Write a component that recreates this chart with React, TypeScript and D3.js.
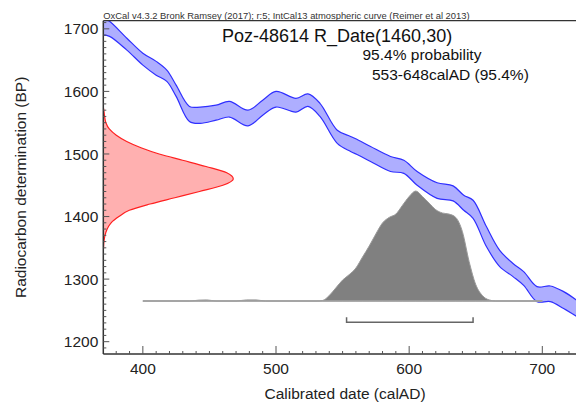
import React from "react";
import * as d3 from "d3";

// IntCal13 calibration curve band (1 sigma)
const calYear = [370, 375, 388, 400, 410, 418, 425, 435, 443, 455, 465, 479, 490, 500, 515, 524, 533, 546, 556, 562, 571, 586, 596, 606, 621, 633, 641, 648, 658, 668, 678, 686, 696, 706, 716, 726];
const calUpper = [1718, 1712, 1685, 1661, 1648, 1634, 1610, 1576, 1575, 1578, 1584, 1570, 1586, 1600, 1589, 1596, 1581, 1538, 1528, 1522, 1512, 1496, 1490, 1472, 1454, 1449, 1434, 1426, 1384, 1346, 1325, 1312, 1288, 1289, 1280, 1266];
const calLower = [1690, 1688, 1666, 1642, 1626, 1616, 1592, 1552, 1549, 1554, 1559, 1545, 1562, 1575, 1567, 1576, 1560, 1517, 1504, 1498, 1488, 1472, 1469, 1450, 1429, 1425, 1410, 1397, 1352, 1320, 1304, 1290, 1264, 1264, 1253, 1240];

// Radiocarbon measurement distribution (relative density)
const rcBP = [1575, 1570, 1560, 1550, 1540, 1530, 1520, 1510, 1500, 1490, 1480, 1470, 1460, 1450, 1440, 1430, 1420, 1410, 1400, 1390, 1380, 1370, 1360, 1350, 1345];
const rcDensity = [0, 0.004, 0.01, 0.02, 0.046, 0.1, 0.18, 0.29, 0.43, 0.61, 0.79, 0.95, 1.0, 0.92, 0.74, 0.55, 0.36, 0.2, 0.12, 0.06, 0.03, 0.013, 0.005, 0.002, 0];

// Calibrated date distribution (relative probability)
const calibYear = [400, 435, 442, 448, 455, 470, 478, 485, 492, 530, 535, 540, 545, 550, 555, 560, 565, 570, 575, 580, 585, 590, 595, 600, 605, 610, 615, 620, 625, 630, 635, 640, 645, 650, 655, 660, 665, 700];
const calibProb = [0, 0, 0.008, 0.01, 0, 0, 0.01, 0.01, 0, 0, 0.005, 0.05, 0.12, 0.19, 0.24, 0.3, 0.4, 0.5, 0.61, 0.71, 0.76, 0.79, 0.87, 0.95, 1.0, 0.95, 0.89, 0.83, 0.8, 0.79, 0.76, 0.63, 0.36, 0.15, 0.05, 0.01, 0, 0];

const rangeLabel = "553-648calAD (95.4%)";
const range95 = [553, 648];
const baselineBP = 1265;
const bracketBP = 1231;

const xTicks = [400, 500, 600, 700];
const yTicks = [1200, 1300, 1400, 1500, 1600, 1700];

const W = 576;
const H = 403;
const FONT = "'Liberation Sans', Arial, sans-serif";

export default function App() {
  const left = 103.3, right = 576, top = 20.7, bottom = 354;
  const x = d3.scaleLinear().domain([370.3, 725.3]).range([left, right]);
  const y = d3.scaleLinear().domain([1180.3, 1713]).range([bottom, top]);
  const rcScale = d3.scaleLinear().domain([0, 1]).range([0, 130]);
  const probScale = d3.scaleLinear().domain([0, 1]).range([0, 110]);

  const band = d3
    .area<number>()
    .x((_, i) => x(calYear[i]))
    .y0((_, i) => y(calLower[i]))
    .y1((_, i) => y(calUpper[i]))
    .curve(d3.curveCatmullRom.alpha(0.5));
  const bandIdx = calYear.map((_, i) => i);
  const upperLine = d3.line<number>().x((i) => x(calYear[i])).y((i) => y(calUpper[i])).curve(d3.curveCatmullRom.alpha(0.5));
  const lowerLine = d3.line<number>().x((i) => x(calYear[i])).y((i) => y(calLower[i])).curve(d3.curveCatmullRom.alpha(0.5));

  const rcIdx = rcBP.map((_, i) => i);
  const rcArea = d3
    .area<number>()
    .y((i) => y(rcBP[i]))
    .x0(() => left)
    .x1((i) => left + rcScale(rcDensity[i]))
    .curve(d3.curveMonotoneY);
  const rcLine = d3
    .line<number>()
    .y((i) => y(rcBP[i]))
    .x((i) => left + rcScale(rcDensity[i]))
    .curve(d3.curveMonotoneY);

  const cIdx = calibYear.map((_, i) => i);
  const by = y(baselineBP);
  const calibArea = d3
    .area<number>()
    .x((i) => x(calibYear[i]))
    .y0(() => by)
    .y1((i) => by - probScale(calibProb[i]))
    .curve(d3.curveMonotoneX);

  const yMinor = d3.range(1190, 1711, 10);
  const xMinor = d3.range(380, 721, 10);
  const by2 = y(bracketBP);

  return (
    <svg width={W} height={H} style={{ position: "absolute", left: 0, top: 0 }} fontFamily={FONT}>
      <rect width={W} height={H} fill="#fff" />
      <defs>
        <clipPath id="plot">
          <rect x={left} y={top} width={right - left} height={bottom - top} />
        </clipPath>
      </defs>
      <g clipPath="url(#plot)">
        <path d={band(bandIdx) || ""} fill="#aeaeff" stroke="none" />
        <path d={upperLine(bandIdx) || ""} fill="none" stroke="#2f2fff" strokeWidth={1.2} />
        <path d={lowerLine(bandIdx) || ""} fill="none" stroke="#2f2fff" strokeWidth={1.2} />
        <path d={rcArea(rcIdx) || ""} fill="#ffb0b0" />
        <path d={rcLine(rcIdx) || ""} fill="none" stroke="#ff2020" strokeWidth={1.2} />
        <path d={calibArea(cIdx) || ""} fill="#808080" stroke="#9a9a9a" strokeWidth={1} />
        <line x1={x(calibYear[0])} x2={x(calibYear[calibYear.length - 1])} y1={by} y2={by} stroke="#a0a0a0" strokeWidth={1.5} />
      </g>
      {/* 95.4% range bracket */}
      <path
        d={`M${x(range95[0])},${by2 - 5}V${by2}H${x(range95[1])}V${by2 - 5}`}
        fill="none"
        stroke="#666"
        strokeWidth={1.5}
      />
      {/* axes */}
      <line x1={left} x2={right} y1={top} y2={top} stroke="#333" strokeWidth={1.2} />
      <line x1={left} x2={left} y1={top} y2={bottom} stroke="#333" strokeWidth={1.5} />
      <line x1={left} x2={right} y1={bottom} y2={bottom} stroke="#333" strokeWidth={1.5} />
      {yMinor.map((v) => (
        <line key={"ym" + v} x1={left} x2={left + (v % 100 === 0 ? 6 : 3)} y1={y(v)} y2={y(v)} stroke="#555" strokeWidth={1} />
      ))}
      {xMinor.map((v) => (
        <line key={"xm" + v} x1={x(v)} x2={x(v)} y1={bottom} y2={bottom - (v % 100 === 0 ? 8 : 3)} stroke="#555" strokeWidth={1} />
      ))}
      {yTicks.map((v) => (
        <text key={"yt" + v} x={left - 5} y={y(v)} dy="0.36em" textAnchor="end" fontSize={15.5} fill="#222">
          {v}
        </text>
      ))}
      {xTicks.map((v) => (
        <text key={"xt" + v} x={x(v)} y={374} textAnchor="middle" fontSize={15.5} fill="#222">
          {v}
        </text>
      ))}
      <text x={345} y={399} textAnchor="middle" fontSize={15.5} fill="#222">
        Calibrated date (calAD)
      </text>
      <text transform={`translate(26,${(top + bottom) / 2}) rotate(-90)`} textAnchor="middle" fontSize={15.5} fill="#222">
        Radiocarbon determination (BP)
      </text>
      <text x={left} y={18.5} fontSize={9.4} fill="#333">
        OxCal v4.3.2 Bronk Ramsey (2017); r:5; IntCal13 atmospheric curve (Reimer et al 2013)
      </text>
      <text x={222} y={42} fontSize={18} fill="#111">
        Poz-48614 R_Date(1460,30)
      </text>
      <text x={362.5} y={60} fontSize={15.5} fill="#111">
        95.4% probability
      </text>
      <text x={372} y={80} fontSize={15.5} fill="#111">
        {rangeLabel}
      </text>
    </svg>
  );
}
